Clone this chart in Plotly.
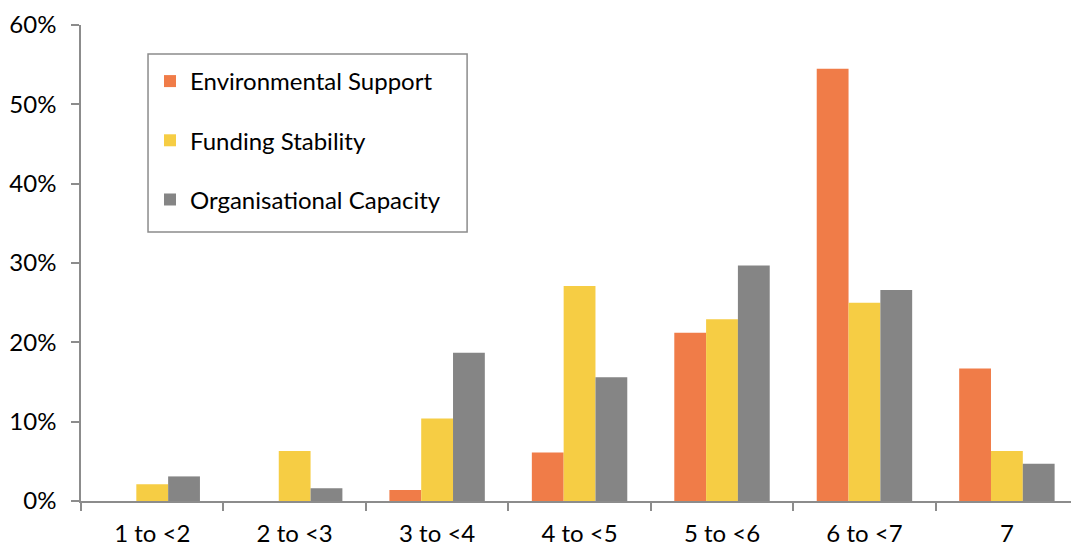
import plotly.graph_objects as go

categories = ["1 to <2", "2 to <3", "3 to <4", "4 to <5", "5 to <6", "6 to <7", "7"]
environmental_support = [0.0, 0.0, 1.4, 6.1, 21.2, 54.5, 16.7]
funding_stability = [2.1, 6.3, 10.4, 27.1, 22.9, 25.0, 6.3]
organisational_capacity = [3.1, 1.6, 18.7, 15.6, 29.7, 26.6, 4.7]

series = [
    ("Environmental Support", environmental_support, "#F07C48"),
    ("Funding Stability", funding_stability, "#F6CD44"),
    ("Organisational Capacity", organisational_capacity, "#858585"),
]

FONT = "Lato"
AXIS_GREY = "#8C8C8C"
TEXT_SIZE = 24

fig = go.Figure()
for i, (name, values, color) in enumerate(series):
    fig.add_trace(go.Bar(
        x=categories,
        y=[v / 100 for v in values],
        name=name,
        legendgroup=f"g{i}",
        marker=dict(color=color, line=dict(width=0)),
    ))

# Framed panel behind the legend entries
fig.add_shape(
    type="rect", xref="paper", yref="paper",
    x0=0.0677, x1=0.390, y0=0.565, y1=0.939,
    line=dict(color=AXIS_GREY, width=1.5),
    fillcolor="white", layer="above",
)

fig.update_layout(
    width=1071,
    height=546,
    margin=dict(l=81, r=0, t=25, b=45),
    paper_bgcolor="white",
    plot_bgcolor="white",
    barmode="group",
    bargap=0.33,
    bargroupgap=0,
    font=dict(family=FONT, size=TEXT_SIZE, color="black"),
    legend=dict(
        x=0.0697, y=0.9286, xanchor="left", yanchor="top",
        borderwidth=0,
        bgcolor="rgba(0,0,0,0)",
        tracegroupgap=25,
        traceorder="grouped",
        font=dict(family=FONT, size=TEXT_SIZE, color="black"),
        itemwidth=30,
    ),
    xaxis=dict(
        type="category",
        range=[-0.5, 6.45],
        showline=True, linecolor=AXIS_GREY, linewidth=1.5,
        ticks="outside", ticklen=8, tickcolor=AXIS_GREY, tickwidth=1.5,
        tickson="boundaries",
        showgrid=False,
        ticklabelstandoff=10,
        tickfont=dict(family=FONT, size=TEXT_SIZE, color="black"),
    ),
    yaxis=dict(
        range=[0, 0.6],
        dtick=0.1,
        tickformat=".0%",
        showline=True, linecolor=AXIS_GREY, linewidth=1.5,
        ticks="outside", ticklen=8, tickcolor=AXIS_GREY, tickwidth=1.5,
        showgrid=False, zeroline=False,
        ticklabelstandoff=10,
        tickfont=dict(family=FONT, size=TEXT_SIZE, color="black"),
    ),
)

fig.write_html("out.html")
